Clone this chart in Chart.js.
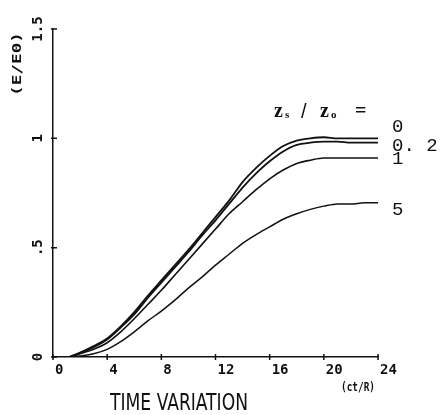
<!DOCTYPE html>
<html lang="en">
<head>
  <meta charset="UTF-8">
  <title>Time variation</title>
  <script src="https://cdn.jsdelivr.net/npm/chart.js"></script>
  <style>
    html, body { margin: 0; padding: 0; background: #fff; }
  </style>
</head>
<body>
  <canvas id="timeChart" width="440" height="415" style="width:440px;height:415px;"></canvas>
  <script>
    // ct/R values
    var times = [1.2, 2, 3, 4, 5, 6, 7, 8, 9, 10, 11, 12, 13, 14, 15, 16, 17, 18, 19, 20, 21, 22, 23, 24];

    // E/E0 for each zs/zo
    var ratio0  = [0, 0.02, 0.05, 0.085, 0.14, 0.205, 0.28, 0.35, 0.42, 0.49, 0.565, 0.64, 0.715, 0.80, 0.865, 0.92, 0.965, 0.99, 1.0, 1.005, 1.0, 1.0, 1.0, 1.0];
    var ratio02 = [0, 0.018, 0.045, 0.08, 0.135, 0.195, 0.27, 0.34, 0.41, 0.48, 0.555, 0.625, 0.70, 0.775, 0.84, 0.895, 0.94, 0.97, 0.98, 0.985, 0.985, 0.98, 0.98, 0.98];
    var ratio1  = [0, 0.015, 0.035, 0.065, 0.115, 0.175, 0.24, 0.305, 0.375, 0.445, 0.515, 0.585, 0.655, 0.71, 0.765, 0.815, 0.855, 0.885, 0.90, 0.91, 0.91, 0.91, 0.91, 0.91];
    var ratio5  = [0, 0.005, 0.015, 0.035, 0.07, 0.115, 0.165, 0.21, 0.26, 0.315, 0.365, 0.42, 0.47, 0.52, 0.56, 0.595, 0.63, 0.655, 0.675, 0.69, 0.70, 0.70, 0.705, 0.705];

    var seriesLabels = ['0', '0. 2', '1', '5'];
    var xTicks = [0, 4, 8, 12, 16, 20, 24];
    var yTicks = [0, 0.5, 1, 1.5];
    var yTickLabels = ['0', '.5', '1', '1.5'];

    function toPoints(values) {
      return values.map(function (v, i) { return { x: times[i], y: v }; });
    }

    function lineSet(label, values, width) {
      return {
        label: label,
        data: toPoints(values),
        borderColor: '#111',
        borderWidth: width,
        fill: false,
        pointRadius: 0,
        cubicInterpolationMode: 'monotone'
      };
    }

    // draw text squeezed/stretched to a given width
    function fitText(ctx, text, x, y, w, rot) {
      ctx.save();
      ctx.translate(x, y);
      if (rot) ctx.rotate(rot);
      var m = ctx.measureText(text).width;
      ctx.scale(w / m, 1);
      ctx.fillText(text, -m / 2, 0);
      ctx.restore();
    }

    var plotText = {
      id: 'plotText',
      beforeDraw: function (chart) {
        var ctx = chart.ctx;
        ctx.save();
        ctx.fillStyle = '#fff';
        ctx.fillRect(0, 0, chart.width, chart.height);
        ctx.restore();
      },
      afterDraw: function (chart) {
        var ctx = chart.ctx;
        var xs = chart.scales.x, ys = chart.scales.y;
        var x0 = xs.getPixelForValue(0), y0 = ys.getPixelForValue(0);
        ctx.save();
        ctx.strokeStyle = '#111';
        ctx.fillStyle = '#111';
        ctx.lineWidth = 1.5;

        // tick marks across the axes
        ctx.beginPath();
        xTicks.forEach(function (t) {
          var px = xs.getPixelForValue(t);
          ctx.moveTo(px, y0 - 3); ctx.lineTo(px, y0 + 3);
        });
        yTicks.forEach(function (t) {
          var py = ys.getPixelForValue(t);
          ctx.moveTo(x0 - 2, py); ctx.lineTo(x0 + 4, py);
        });
        ctx.stroke();

        // x tick labels
        ctx.font = 'bold 14px "DejaVu Sans Mono", monospace';
        ctx.textBaseline = 'alphabetic';
        ctx.textAlign = 'left';
        xTicks.forEach(function (t) {
          ctx.fillText(String(t), xs.getPixelForValue(t) + 2, y0 + 17);
        });

        // y tick labels, rotated
        ctx.textAlign = 'center';
        ctx.textBaseline = 'middle';
        yTicks.forEach(function (t, i) {
          ctx.save();
          ctx.translate(38, ys.getPixelForValue(t));
          ctx.rotate(-Math.PI / 2);
          ctx.fillText(yTickLabels[i], 0, 0);
          ctx.restore();
        });

        // axis titles
        ctx.textAlign = 'left';
        ctx.textBaseline = 'middle';
        ctx.font = 'bold 12px "DejaVu Sans Mono", monospace';
        fitText(ctx, '(E/E0)', 18, 64, 64, -Math.PI / 2);
        ctx.font = 'bold 12px "DejaVu Sans Mono", monospace';
        fitText(ctx, '(ct/R)', 358, 388, 34, 0);
        ctx.font = '23px "Liberation Sans Narrow", "DejaVu Sans Condensed", sans-serif';
        fitText(ctx, 'TIME VARIATION', 179, 404, 138, 0);

        // legend header
        ctx.textBaseline = 'alphabetic';
        ctx.font = 'bold 20px "Liberation Serif", serif';
        ctx.fillText('z', 274, 117);
        ctx.font = 'bold 11px "Liberation Serif", serif';
        ctx.fillText('s', 285, 118);
        ctx.font = '20px "Liberation Sans", sans-serif';
        ctx.fillText('/', 301, 118);
        ctx.font = 'bold 20px "Liberation Serif", serif';
        ctx.fillText('z', 320, 117);
        ctx.font = 'bold 11px "Liberation Serif", serif';
        ctx.fillText('o', 331, 118);
        ctx.font = 'bold 20px "Liberation Serif", serif';
        ctx.fillText('=', 355, 117);

        // series labels at line ends
        var offsets = [-11, 3, 1, 7];
        ctx.font = '19px "Liberation Mono", "DejaVu Sans Mono", monospace';
        ctx.textBaseline = 'middle';
        chart.data.datasets.forEach(function (ds, i) {
          var last = ds.data[ds.data.length - 1];
          var px = xs.getPixelForValue(last.x) + 14;
          var py = ys.getPixelForValue(last.y) + offsets[i];
          ctx.fillText(seriesLabels[i], px, py);
        });
        ctx.restore();
      }
    };

    new Chart(document.getElementById('timeChart'), {
      type: 'line',
      data: {
        datasets: [
          lineSet('0', ratio0, 1.8),
          lineSet('0.2', ratio02, 1.8),
          lineSet('1', ratio1, 1.6),
          lineSet('5', ratio5, 1.5)
        ]
      },
      options: {
        responsive: false,
        animation: false,
        layout: { padding: { left: 45, right: 62, top: 29, bottom: 50 } },
        plugins: {
          legend: { display: false },
          tooltip: { enabled: false }
        },
        scales: {
          x: {
            type: 'linear',
            min: 0,
            max: 24,
            grid: { display: false },
            ticks: { display: false },
            border: { display: true, color: '#111', width: 1.5 }
          },
          y: {
            min: 0,
            max: 1.5,
            grid: { display: false },
            ticks: { display: false },
            border: { display: true, color: '#111', width: 1.5 }
          }
        }
      },
      plugins: [plotText]
    });
  </script>
</body>
</html>
